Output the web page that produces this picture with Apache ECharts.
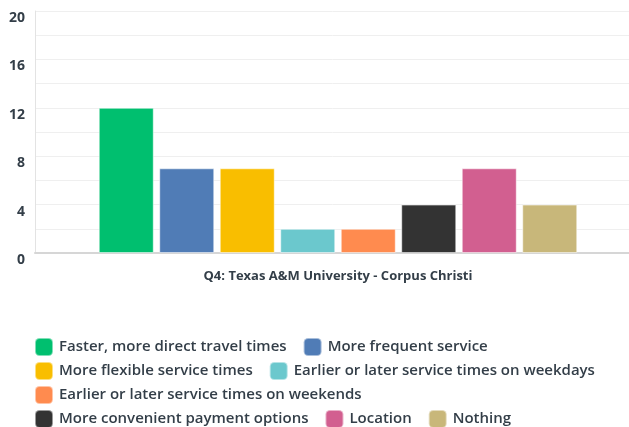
<!DOCTYPE html>
<html>
<head>
<meta charset="utf-8">
<script src="https://cdn.jsdelivr.net/npm/echarts@6/dist/echarts.min.js"></script>
<style>html,body{margin:0;padding:0;background:#fff}#c{width:629px;height:427px}</style>
</head>
<body>
<div id="c"></div>
<script>
const categories = ['Q4: Texas A&M University - Corpus Christi'];
const seriesNames = [
  'Faster, more direct travel times',
  'More frequent service',
  'More flexible service times',
  'Earlier or later service times on weekdays',
  'Earlier or later service times on weekends',
  'More convenient payment options',
  'Location',
  'Nothing'
];
const values = [12, 7, 7, 2, 2, 4, 7, 4];
const colors = ['#00BF6F', '#507CB6', '#F9BE00', '#6BC8CD', '#FF8B4F', '#333333', '#D25F90', '#C8B77A'];
const yTicks = [0, 4, 8, 12, 16, 20];
const legendRows = [[0, 1], [2, 3], [4], [5, 6, 7]];

const FONT = 'Open Sans';
const TEXT = '#333e48';

const chart = echarts.init(document.getElementById('c'), null, {renderer: 'canvas'});
const series = seriesNames.map((n, i) => ({
  name: n,
  type: 'bar',
  data: [values[i]],
  barWidth: 55,
  barGap: '10%',
  itemStyle: {color: colors[i], borderColor: 'rgba(255,255,255,0.5)', borderWidth: 1},
  emphasis: {disabled: true},
  animation: false
}));

const legends = legendRows.map((row, r) => ({
  data: row.map(i => seriesNames[i]),
  left: 34,
  top: 337 + r * 24,
  padding: 0,
  orient: 'horizontal',
  icon: 'roundRect',
  itemWidth: 18,
  itemHeight: 18,
  itemGap: 16,
  selectedMode: false,
  textStyle: {fontFamily: FONT, fontSize: 15, fontWeight: 600, color: TEXT, padding: [0, 0, 0, 1]}
}));

chart.setOption({
  animation: false,
  color: colors,
  grid: {left: 35, top: 11, width: 606, height: 242, containLabel: false, outerBoundsMode: 'none'},
  legend: legends,
  xAxis: {
    type: 'category',
    data: categories,
    axisLine: {lineStyle: {color: '#d6d6d6', width: 2}},
    axisTick: {show: false},
    axisLabel: {fontFamily: FONT, fontSize: 13, fontWeight: 'bold', color: TEXT, margin: 17}
  },
  yAxis: {
    type: 'value',
    min: 0, max: 20, interval: 2,
    axisLine: {show: true, lineStyle: {color: '#e3e3e3', width: 1}},
    axisTick: {show: false},
    splitLine: {lineStyle: {color: '#efefef', width: 1}},
    axisLabel: {
      fontFamily: FONT, fontSize: 14, fontWeight: 'bold', color: TEXT, margin: 10,
      verticalAlign: 'top',
      formatter: v => (yTicks.indexOf(v) >= 0 ? String(v) : '')
    }
  },
  series: series
});
</script>
</body>
</html>
